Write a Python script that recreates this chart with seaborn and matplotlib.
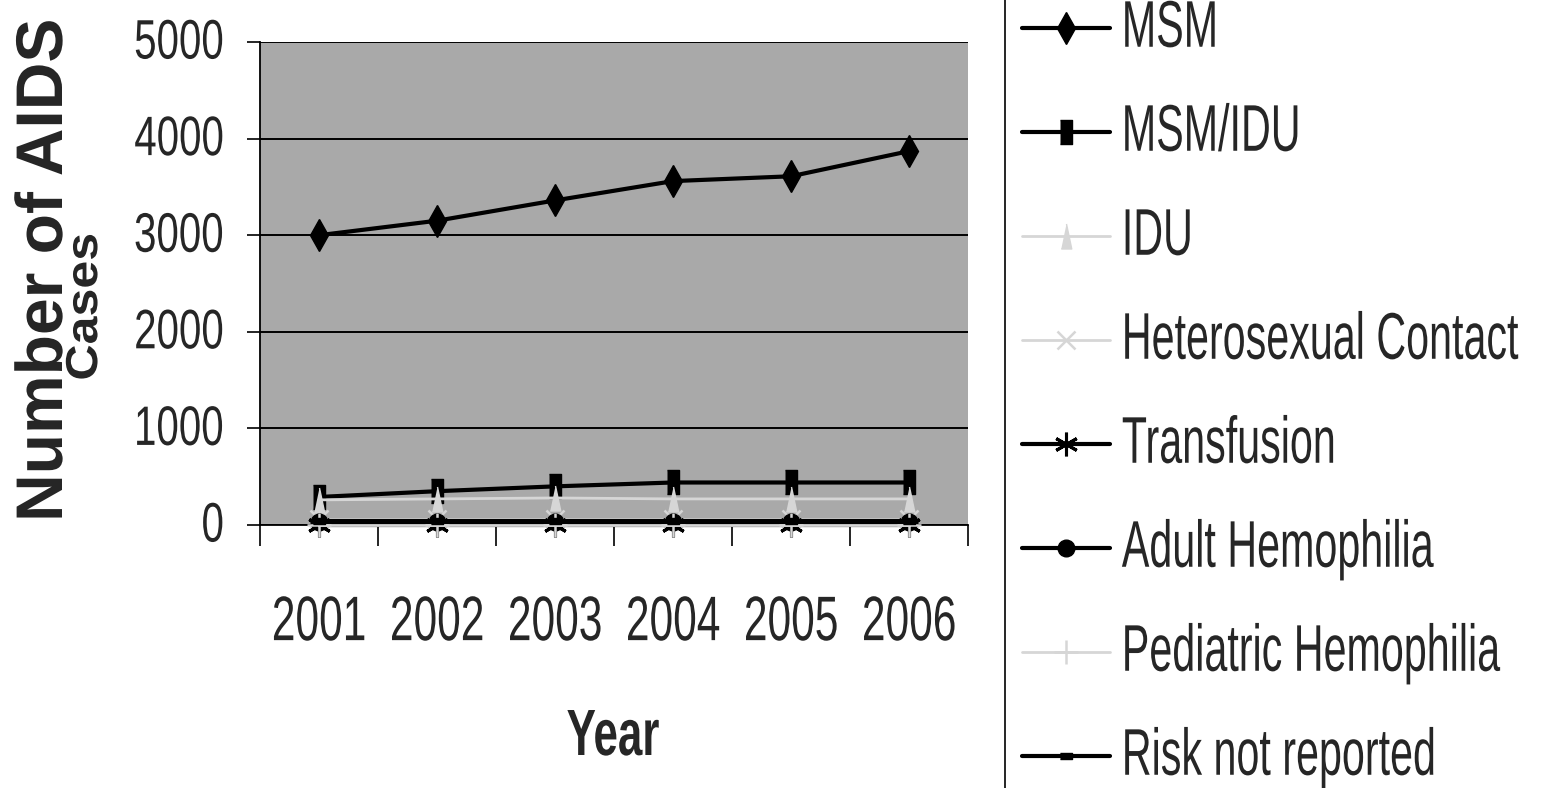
import numpy as np
import matplotlib
matplotlib.use("Agg")
import matplotlib.pyplot as plt
import seaborn as sns
from matplotlib.patheffects import AbstractPathEffect
from matplotlib.transforms import Affine2D

years = ["2001", "2002", "2003", "2004", "2005", "2006"]
msm = [3000, 3150, 3360, 3560, 3610, 3870]
msm_idu = [290, 350, 400, 440, 440, 440]
idu = [260, 270, 280, 270, 270, 270]
hetero = [60, 60, 60, 60, 60, 60]
transfusion = [0, 0, 0, 0, 0, 0]
adult_hemo = [30, 30, 30, 30, 30, 30]
ped_hemo = [0, 0, 0, 0, 0, 0]
risk_nr = [40, 40, 40, 40, 40, 40]
y_ticks = [0, 1000, 2000, 3000, 4000, 5000]


class Scale(AbstractPathEffect):
    """Scale glyph outlines (emulates the tall narrow typeface of the original).
    Path units: 100 per font size; baseline at y=0, cap height ~72."""

    def __init__(self, sx=1.0, sy=1.0, xa="center", ya=36.0, short=None, dx=0.0, dy=0.0):
        super().__init__()
        self.sx, self.sy, self.xa, self.ya = sx, sy, xa, ya
        self.short, self.dx, self.dy = short, dx, dy

    def draw_path(self, renderer, gc, tpath, affine, rgbFace=None):
        ext = tpath.get_extents()
        sx, sy, dx, dy = self.sx, self.sy, self.dx, self.dy
        if self.short is not None and ext.width > self.short:
            sx, sy, dx, dy = 1.0, 1.0, 0.0, 0.0
        if self.xa == "center":
            cx = (ext.x0 + ext.x1) / 2
        elif self.xa == "left":
            cx = 0.0
        else:
            cx = ext.x1
        t = (Affine2D().translate(-cx, -self.ya).scale(sx, sy)
             .translate(cx + dx, self.ya + dy))
        renderer.draw_path(gc, tpath, t + affine, rgbFace)


sns.set_theme(style="white")
plt.rcParams["font.family"] = ["Liberation Sans", "DejaVu Sans"]

W, H = 1545, 788
fig = plt.figure(figsize=(W / 100, H / 100), dpi=100)
ax = fig.add_axes([260 / W, 1 - 525 / H, 708 / W, 483 / H])
ax.set_facecolor("#a9a9a9")

dark = "black"
light = "#d6d6d6"
tri = [(0, 1), (0.42, -1), (-0.42, -1)]
rect_tall = [(-0.5, -1), (0.5, -1), (0.5, 1), (-0.5, 1)]
rect_flat = [(-1, -0.45), (1, -0.45), (1, 0.45), (-1, 0.45)]
series = [
    ("MSM", msm, dark, "d", 16, 1.0, 3.0),
    ("MSM/IDU", msm_idu, dark, rect_tall, 17, 1.0, 3.0),
    ("IDU", idu, light, tri, 18, 1.0, 2.0),
    ("Heterosexual Contact", hetero, light, "x", 13, 1.8, 2.0),
    ("Transfusion", transfusion, dark, (6, 2, 0), 17, 2.2, 3.0),
    ("Adult Hemophilia", adult_hemo, dark, "o", 12, 1.0, 3.0),
    ("Pediatric Hemophilia", ped_hemo, light, "+", 17, 1.8, 2.0),
    ("Risk not reported", risk_nr, dark, rect_flat, 9, 1.0, 3.0),
]
x = np.arange(len(years))
for name, vals, col, mk, ms, mew, lw in series:
    sns.lineplot(x=x, y=vals, ax=ax, color=col, marker=mk, markersize=ms,
                 markeredgewidth=mew, markeredgecolor=col, markerfacecolor=col,
                 linewidth=lw, label=name, legend=False, clip_on=False, zorder=3)

ax.set_xlim(-0.5, len(years) - 0.5)
ax.set_ylim(0, 5000)
ax.set_yticks(y_ticks)
ax.set_yticklabels([str(v) for v in y_ticks], fontsize=29, va="center")
ax.yaxis.grid(True, color="black", linewidth=1.4)
ax.xaxis.grid(False)
ax.set_axisbelow(True)
ax.set_xticks(np.arange(-0.5, len(years), 1.0))
ax.set_xticklabels([])
ax.set_xticks(x, minor=True)
ax.set_xticklabels(years, minor=True, fontsize=30.6)
ax.tick_params(axis="x", which="major", length=15, width=1.2, color="black",
               direction="out", bottom=True)
ax.tick_params(axis="x", which="minor", length=0, pad=50, bottom=True)
ax.tick_params(axis="y", length=9.4, width=1.2, color="black", direction="out",
               pad=16.5, left=True)
for s in ["top", "right"]:
    ax.spines[s].set_visible(False)
for s in ["left", "bottom"]:
    ax.spines[s].set_color("black")
    ax.spines[s].set_linewidth(1.3)

for t in ax.get_yticklabels():
    t.set_path_effects([Scale(sy=1.38, ya=36)])
for t in ax.get_xticklabels(minor=True):
    t.set_path_effects([Scale(sy=1.48, ya=72)])

# axis titles
ax.set_ylabel("Number of AIDS\nCases", fontsize=47.5, fontweight="bold",
              linespacing=0.44, multialignment="center")
ax.yaxis.set_label_coords((14 - 260) / 708, (525 - 270) / 483)
ax.yaxis.label.set_verticalalignment("top")
ax.yaxis.label.set_path_effects([Scale(sx=0.76, sy=0.68, xa="left", ya=0,
                                       short=450, dx=-20)])

xl = fig.text(613 / W, 1 - 755 / H, "Year", fontsize=31.6, fontweight="bold",
              ha="center", va="baseline")
xl.set_path_effects([Scale(sy=1.49, ya=0)])

# legend
fig.add_artist(plt.Line2D([1005 / W, 1005 / W], [0, 1], color="black", linewidth=1.2))
handles, labels = ax.get_legend_handles_labels()
leg = fig.legend(handles, labels, loc="upper left", bbox_to_anchor=(1022 / W, 1 - 12.8 / H),
                 frameon=False, fontsize=29.7, handlelength=2.13, handletextpad=0.29,
                 labelspacing=1.6, borderaxespad=0, borderpad=0)
for t in leg.get_texts():
    t.set_path_effects([Scale(sy=1.6, ya=36, dy=12)])

fig.savefig("out.png", dpi=100, facecolor="white")
